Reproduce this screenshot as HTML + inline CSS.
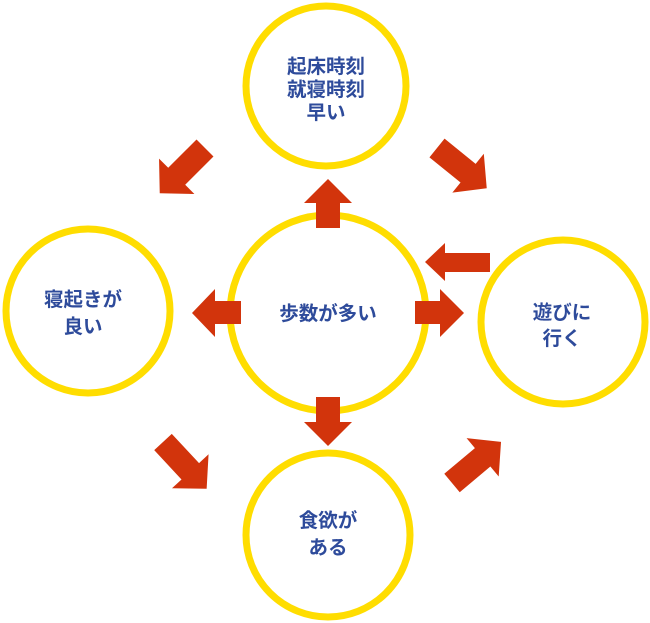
<!DOCTYPE html>
<html><head><meta charset="utf-8"><style>
html,body{margin:0;padding:0;background:#fff;}
svg{display:block}
text{font-family:"Liberation Sans","Noto Sans CJK JP",sans-serif;font-weight:bold;fill:#2e4b9b;font-size:19.5px;text-anchor:middle}
</style></head><body>
<svg width="650" height="623" viewBox="0 0 650 623" xmlns="http://www.w3.org/2000/svg">
<g fill="none" stroke="#ffdd00" stroke-width="7">
<circle cx="326" cy="86" r="80"/>
<circle cx="88" cy="311" r="82"/>
<circle cx="563" cy="322" r="82"/>
<circle cx="328" cy="535" r="82"/>
<circle cx="328" cy="313" r="98"/>
</g>
<g fill="#d2340c">
<polygon points="316,228 340,228 340,203 352,203 328,179 304,203 316,203"/>
<polygon points="316,397 340,397 340,422 352,422 328,446 304,422 316,422"/>
<polygon points="241,301 241,324 215,324 215,337 192,313 215,289 215,301"/>
<polygon points="415,301 415,324 440,324 440,337 464,313 440,289 440,301"/>
<polygon points="490,253 490,272 445,272 445,281 425,262 445,243 445,253"/>
<g transform="translate(205,148) rotate(135)"><polygon points="0,-12 40,-12 40,-25 64,0 40,25 40,12 0,12"/></g>
<g transform="translate(437,148) rotate(39)"><polygon points="0,-12 40,-12 40,-25 64,0 40,25 40,12 0,12"/></g>
<g transform="translate(163,442) rotate(47)"><polygon points="0,-12 40,-12 40,-25 64,0 40,25 40,12 0,12"/></g>
<g transform="translate(452,483) rotate(-40)"><polygon points="0,-12 40,-12 40,-25 64,0 40,25 40,12 0,12"/></g>
</g>
<text x="326" y="73">起床時刻</text>
<text x="326" y="96">就寝時刻</text>
<text x="326" y="119">早い</text>
<text x="83" y="306">寝起きが</text>
<text x="83" y="333">良い</text>
<text x="328" y="320">歩数が多い</text>
<text x="562" y="319">遊びに</text>
<text x="562" y="345">行く</text>
<text x="328" y="527">食欲が</text>
<text x="328" y="554">ある</text>
</svg>
</body></html>
